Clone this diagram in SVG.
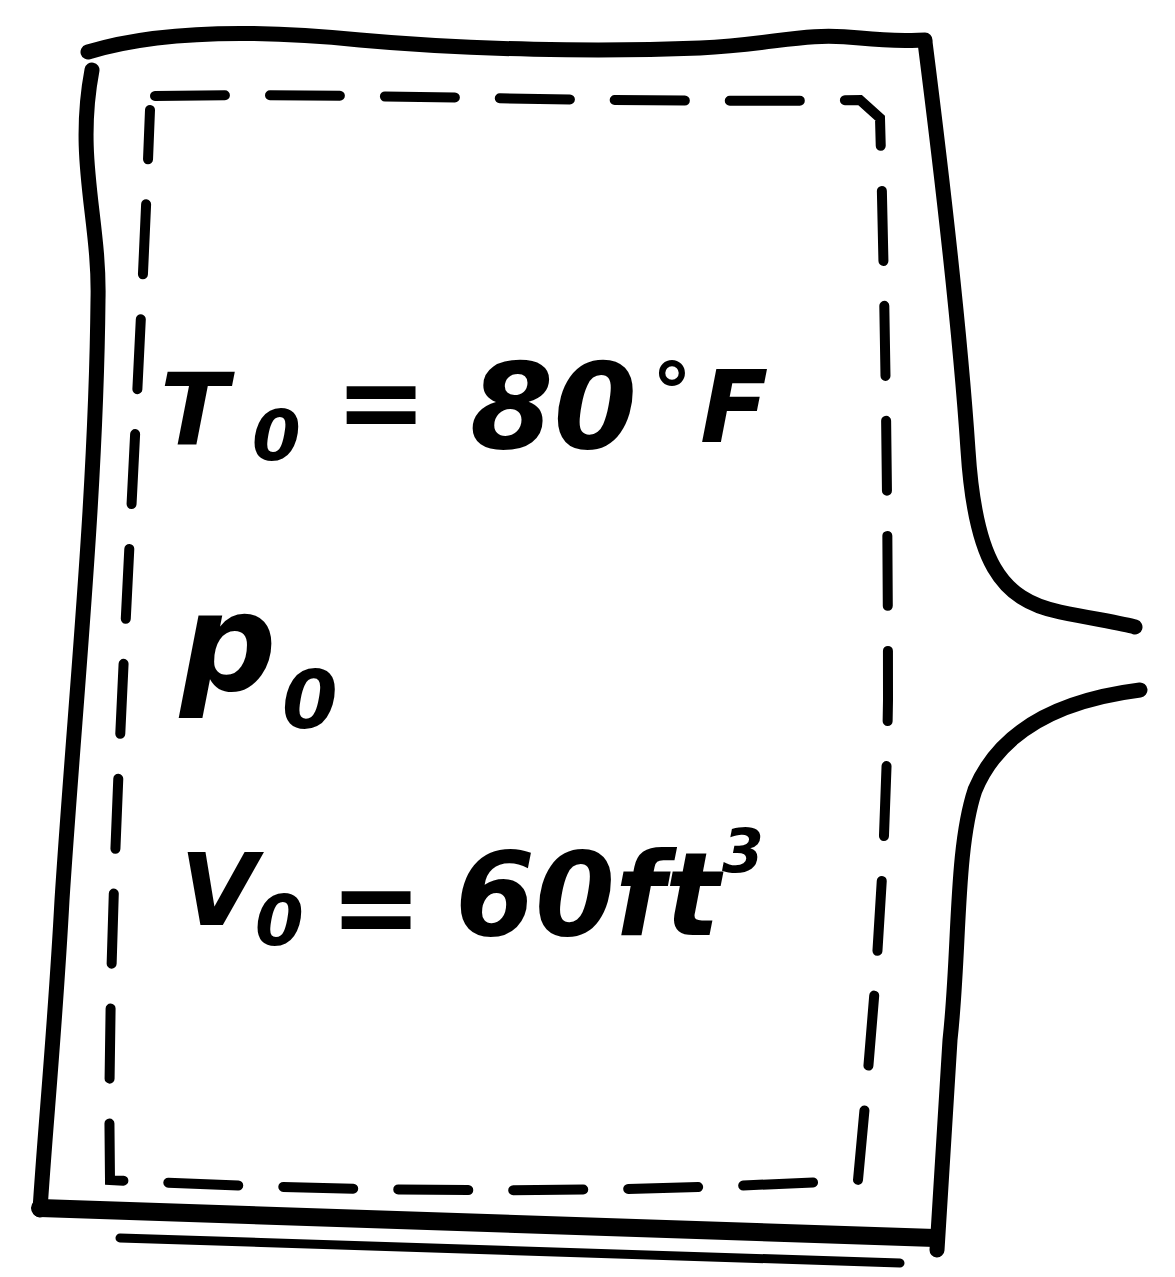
<svg xmlns="http://www.w3.org/2000/svg" width="1175" height="1277" viewBox="0 0 1175 1277">
<style>
.outer{fill:none;stroke:#000;stroke-width:15;stroke-linecap:round;stroke-linejoin:round}
.dash{fill:none;stroke:#000;stroke-width:10;stroke-linecap:round;stroke-dasharray:70 45}
.t{font-family:"DejaVu Sans",sans-serif;font-weight:bold;font-style:oblique;fill:#000}
</style>
<rect width="1175" height="1277" fill="#fff"/>
<g id="container">
<path class="outer" d="M88,52 C160,30 260,30 360,40 C470,50 600,52 700,48 C780,44 800,32 860,38 C900,42 915,40 925,40"/>
<path class="outer" d="M92,70 C75,160 100,220 98,300 C96,500 75,700 62,900 C55,1030 45,1130 40,1210"/>
<path class="outer" d="M925,42 C940,160 960,330 968,450 C975,560 1000,600 1060,612 C1100,620 1125,624 1135,627"/>
<path class="outer" d="M1140,690 C1060,700 1000,730 975,790 C955,850 960,950 950,1040 C945,1120 940,1200 937,1250"/>
<path class="outer" style="stroke-width:18" d="M40,1208 C300,1215 600,1225 935,1238"/>
<path class="outer" style="stroke-width:9" d="M120,1238 C400,1247 700,1256 900,1263"/>
<path class="dash" d="M155,96 C350,92 600,104 860,100 L880,118 C885,300 888,500 888,700 C885,900 870,1050 858,1180 C600,1195 350,1192 110,1180 C105,900 135,500 150,110"/>
</g>
<g id="labels">
<text class="t" x="160" y="445" font-size="100">T</text>
<text class="t" x="252" y="460" font-size="70">0</text>
<text class="t" x="335" y="440" font-size="110">=</text>
<text class="t" x="470" y="448" font-size="120">80</text>
<text class="t" x="652" y="420" font-size="80">°</text>
<text class="t" x="700" y="442" font-size="100">F</text>
<text class="t" x="180" y="690" font-size="135">p</text>
<text class="t" x="282" y="728" font-size="80">0</text>
<text class="t" x="180" y="925" font-size="100">V</text>
<text class="t" x="255" y="945" font-size="70">0</text>
<text class="t" x="330" y="945" font-size="110">=</text>
<text class="t" x="455" y="935" font-size="115">60ft</text>
<text class="t" x="722" y="872" font-size="60">3</text>
</g>
</svg>
